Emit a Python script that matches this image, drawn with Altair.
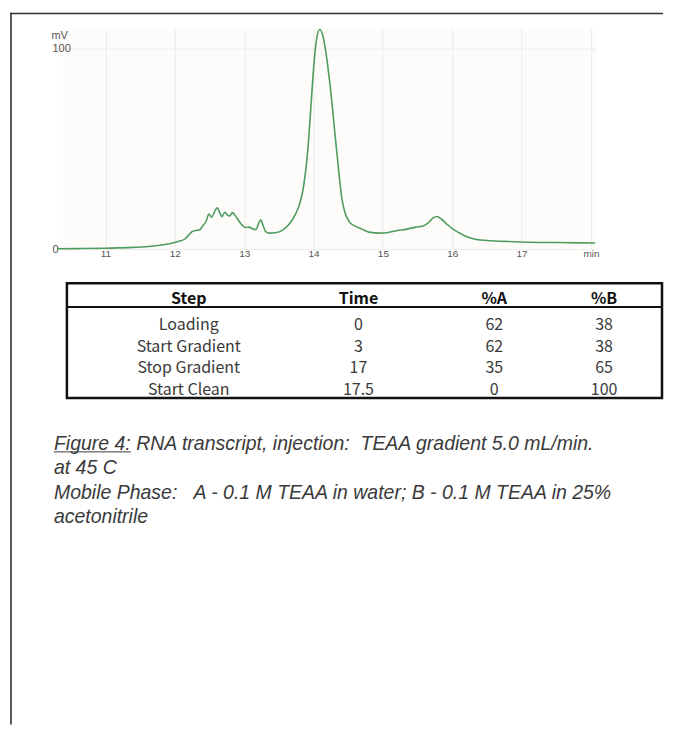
import altair as alt
import pandas as pd

# ---- chromatogram (time in min, signal in mV) ----
times = [10.30, 10.60, 11.00, 11.40, 11.70, 11.90, 12.05, 12.15, 12.20, 12.25,
         12.30, 12.36, 12.40, 12.45, 12.49, 12.53, 12.57, 12.61, 12.65, 12.68,
         12.72, 12.76, 12.79, 12.83, 12.87, 12.92, 12.97, 13.02, 13.07, 13.12,
         13.17, 13.21, 13.24, 13.27, 13.31, 13.37, 13.45, 13.55, 13.65, 13.74,
         13.80, 13.85, 13.89, 13.93, 13.97, 14.01, 14.05, 14.09, 14.13, 14.17,
         14.21, 14.26, 14.31, 14.36, 14.41, 14.46, 14.52, 14.60, 14.70, 14.80,
         14.95, 15.05, 15.20, 15.35, 15.47, 15.58, 15.65, 15.72, 15.78, 15.85,
         15.93, 16.00, 16.10, 16.20, 16.30, 16.50, 16.75, 17.00, 17.50, 18.06]
mv = [0.2, 0.3, 0.5, 0.9, 1.6, 2.6, 3.8, 5.2, 7.0, 8.8,
      9.3, 9.7, 11.5, 13.8, 17.5, 16.0, 18.5, 20.6, 18.0, 16.2,
      18.4, 17.0, 16.5, 18.2, 16.8, 14.2, 12.0, 10.8, 11.0, 10.2,
      9.8, 13.0, 14.7, 12.0, 8.8, 8.0, 8.2, 9.4, 12.5, 17.5,
      22.5, 30.0, 40.0, 55.0, 75.0, 94.0, 106.0, 109.5, 107.0, 100.0,
      90.0, 75.0, 57.0, 40.0, 25.0, 17.5, 13.5, 11.5, 10.0, 8.5,
      8.0, 8.2, 9.2, 10.0, 11.0, 11.6, 13.0, 15.5, 16.3, 14.8,
      12.3, 10.2, 8.2, 6.3, 5.2, 4.3, 3.9, 3.6, 3.3, 3.1]
x_ticks = [11, 12, 13, 14, 15, 16, 17, 18]
y_ticks = [0, 100]

# ---- gradient table ----
headers = ["Step", "Time", "%A", "%B"]
steps = ["Loading", "Start Gradient", "Stop Gradient", "Start Clean"]
step_time = ["0", "3", "17", "17.5"]
pct_a = ["62", "62", "35", "0"]
pct_b = ["38", "38", "65", "100"]

# ---- caption ----
NB = "\u00a0"
caption_lines = ["Figure 4: RNA transcript, injection:" + NB + NB + "TEAA gradient 5.0 mL/min.",
                 "at 45 C",
                 "Mobile Phase:" + NB + NB + NB + "A - 0.1 M TEAA in water; B - 0.1 M TEAA in 25%",
                 "acetonitrile"]

LINE_GREEN = "#4f9c5f"
GRID = "#ecebe9"
LBL = "#555555"
TABLE_FONT = "Noto Sans CJK JP"
CAP_FONT = "Liberation Sans"

one = pd.DataFrame({"k": [0]})

# ---------- panel 1: chromatogram ----------
line_df = pd.DataFrame({"t": times, "v": mv})
xs = alt.Scale(domain=[10.3, 18.06], nice=False, zero=False)
ys = alt.Scale(domain=[0, 110], nice=False, zero=True)

trace = alt.Chart(line_df).mark_line(
    color=LINE_GREEN, strokeWidth=1.6, interpolate="monotone"
).encode(
    x=alt.X("t:Q", scale=xs, axis=alt.Axis(
        values=x_ticks, labelExpr="datum.value == 18 ? 'min' : datum.label",
        grid=True, gridColor=GRID, gridWidth=1, domain=False, ticks=False, tickSize=0,
        labelPadding=-1, labelFontSize=10, labelColor=LBL, labelFont="Liberation Sans",
        labelFlush=False, title=None)),
    y=alt.Y("v:Q", scale=ys, axis=alt.Axis(
        values=y_ticks, grid=True, gridColor=GRID, gridWidth=1, domain=False,
        ticks=False, tickSize=0, labelAlign="left", labelBaseline="middle",
        labelPadding=5, labelFlush=True, labelFlushOffset=-4, labelFontSize=11,
        labelColor=LBL, labelFont="Liberation Sans",
        title="mV", titleAngle=0, titleAlign="left", titleBaseline="middle",
        titleX=-6, titleY=7, titleFontSize=11, titleFontWeight="normal",
        titleColor=LBL, titleFont="Liberation Sans")),
)

page_left = alt.Chart(one).mark_rule(color="#333333", strokeWidth=1.6).encode(
    x=alt.value(-46), y=alt.value(-15.8), y2=alt.value(697))
page_top = alt.Chart(one).mark_rule(color="#333333", strokeWidth=1.6).encode(
    x=alt.value(-46.8), x2=alt.value(607), y=alt.value(-15))

p1 = alt.layer(trace, page_left, page_top).properties(
    width=539, height=221,
    view=alt.ViewBackground(fill="#fdfcfb", stroke="transparent"))

# ---------- panel 2: table ----------
rows = []
for j, h in enumerate(headers):
    rows.append({"col": j, "row": 0, "txt": h})
for i in range(len(steps)):
    for j, col in enumerate([steps, step_time, pct_a, pct_b]):
        rows.append({"col": j, "row": i + 1, "txt": col[i]})
tdf = pd.DataFrame(rows)

cx = alt.Scale(domain=[0, 1, 2, 3], range=[132, 302, 438, 548])
ry = alt.Scale(domain=[0, 1, 2, 3, 4], range=[16, 42, 63.5, 85, 107])

tbl_box = alt.Chart(one).mark_rect(fillOpacity=0, stroke="#111111", strokeWidth=2.5).encode(
    x=alt.value(10), x2=alt.value(606), y=alt.value(0), y2=alt.value(115))
hdr_rule = alt.Chart(one).mark_rule(color="#111111", strokeWidth=2).encode(
    x=alt.value(10), x2=alt.value(606), y=alt.value(24))
hdr = alt.Chart(tdf).transform_filter("datum.row == 0").mark_text(
    font=TABLE_FONT, fontSize=16, fontWeight="bold", color="#111111", baseline="middle"
).encode(x=alt.X("col:Q", scale=cx, axis=None),
         y=alt.Y("row:Q", scale=ry, axis=None), text="txt:N")
body = alt.Chart(tdf).transform_filter("datum.row > 0").mark_text(
    font=TABLE_FONT, fontSize=16, color="#3a3a3a", baseline="middle"
).encode(x=alt.X("col:Q", scale=cx, axis=None),
         y=alt.Y("row:Q", scale=ry, axis=None), text="txt:N")

p2 = alt.layer(tbl_box, hdr_rule, hdr, body).properties(width=539, height=115)

# ---------- panel 3: caption ----------
cap_df = pd.DataFrame({"line": [0, 1, 2, 3], "txt": caption_lines})
cy = alt.Scale(domain=[0, 3], range=[12, 85.5])
caption = alt.Chart(cap_df).mark_text(
    align="left", baseline="middle", font=CAP_FONT, fontSize=19.5,
    fontStyle="italic", color="#3a3a3a"
).encode(x=alt.value(-3), y=alt.Y("line:Q", scale=cy, axis=None), text="txt:N")
underline = alt.Chart(one).mark_rule(color="#3a3a3a", strokeWidth=1).encode(
    x=alt.value(-3), x2=alt.value(74), y=alt.value(20))

p3 = alt.layer(caption, underline).properties(width=539, height=100)

chart = alt.vconcat(p1, p2, p3, spacing=34, bounds="flush").properties(
    padding={"left": 0, "top": 2, "right": 0, "bottom": 0},
    background="white",
).configure_view(stroke="transparent")

chart.save("out.html", embed_options={"renderer": "svg", "actions": False})
